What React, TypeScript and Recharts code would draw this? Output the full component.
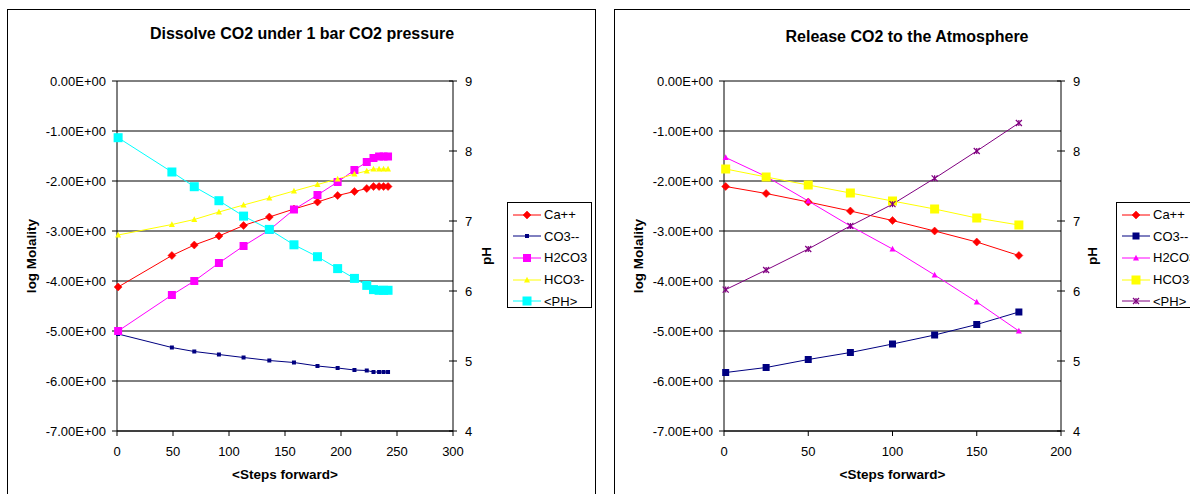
import React from 'react';
import { LineChart, Line, XAxis, YAxis, CartesianGrid, Legend } from 'recharts';

const FONT = '"Liberation Sans", Arial, Helvetica, sans-serif';

// ---------- Chart A: Dissolve CO2 under 1 bar CO2 pressure ----------
const stepsA = [1, 49, 69, 91, 113, 136, 158, 179, 197, 212, 223, 229, 234, 238, 242];
const caA = [-4.12, -3.49, -3.28, -3.10, -2.89, -2.72, -2.56, -2.42, -2.29, -2.21, -2.15, -2.11, -2.11, -2.11, -2.11];
const co3A = [-5.06, -5.33, -5.41, -5.47, -5.53, -5.59, -5.63, -5.70, -5.74, -5.78, -5.79, -5.82, -5.82, -5.82, -5.82];
const h2co3A = [-5.00, -4.28, -4.00, -3.64, -3.30, -2.98, -2.57, -2.28, -2.02, -1.78, -1.62, -1.54, -1.51, -1.51, -1.51];
const hco3A = [-3.08, -2.87, -2.77, -2.62, -2.48, -2.34, -2.20, -2.07, -1.96, -1.86, -1.80, -1.76, -1.76, -1.76, -1.76];
const phA = [8.19, 7.70, 7.49, 7.29, 7.07, 6.88, 6.66, 6.49, 6.32, 6.18, 6.08, 6.02, 6.01, 6.01, 6.01];

// ---------- Chart B: Release CO2 to the Atmosphere ----------
const stepsB = [1, 25, 50, 75, 100, 125, 150, 175];
const caB = [-2.11, -2.25, -2.42, -2.60, -2.79, -3.00, -3.22, -3.49];
const co3B = [-5.83, -5.73, -5.57, -5.43, -5.26, -5.08, -4.87, -4.62];
const h2co3B = [-1.53, -1.91, -2.40, -2.90, -3.36, -3.88, -4.42, -5.00];
const hco3B = [-1.76, -1.92, -2.08, -2.24, -2.40, -2.56, -2.74, -2.88];
const phB = [6.02, 6.30, 6.60, 6.93, 7.24, 7.61, 8.00, 8.40];

// ---------- Axis ticks / labels ----------
const xTicksA = [0, 50, 100, 150, 200, 250, 300];
const xTicksB = [0, 50, 100, 150, 200];
const molTicks = [-7, -6, -5, -4, -3, -2, -1, 0];
const phTicks = [4, 5, 6, 7, 8, 9];
const titleA = 'Dissolve CO2 under 1 bar CO2 pressure';
const titleB = 'Release CO2 to the Atmosphere';
const xLabel = '<Steps forward>';
const yLabel = 'log Molality';
const y2Label = 'pH';

const dataA = stepsA.map((x, i) => ({ x, ca: caA[i], co3: co3A[i], h2co3: h2co3A[i], hco3: hco3A[i], ph: phA[i] }));
const dataB = stepsB.map((x, i) => ({ x, ca: caB[i], co3: co3B[i], h2co3: h2co3B[i], hco3: hco3B[i], ph: phB[i] }));

type Kind = 'diamond' | 'square' | 'triangle' | 'star';
interface Series { key: string; name: string; color: string; kind: Kind; size: number; axis: 'left' | 'right' }

const seriesA: Series[] = [
  { key: 'ca', name: 'Ca++', color: '#FF0000', kind: 'diamond', size: 4, axis: 'left' },
  { key: 'co3', name: 'CO3--', color: '#000080', kind: 'square', size: 4, axis: 'left' },
  { key: 'h2co3', name: 'H2CO3', color: '#FF00FF', kind: 'square', size: 8, axis: 'left' },
  { key: 'hco3', name: 'HCO3-', color: '#FFFF00', kind: 'triangle', size: 6, axis: 'left' },
  { key: 'ph', name: '<PH>', color: '#00FFFF', kind: 'square', size: 9, axis: 'right' },
];
const seriesB: Series[] = [
  { key: 'ca', name: 'Ca++', color: '#FF0000', kind: 'diamond', size: 4, axis: 'left' },
  { key: 'co3', name: 'CO3--', color: '#000080', kind: 'square', size: 7, axis: 'left' },
  { key: 'h2co3', name: 'H2CO3', color: '#FF00FF', kind: 'triangle', size: 6, axis: 'left' },
  { key: 'hco3', name: 'HCO3-', color: '#FFFF00', kind: 'square', size: 9, axis: 'left' },
  { key: 'ph', name: '<PH>', color: '#800080', kind: 'star', size: 3, axis: 'right' },
];

function marker(kind: Kind, cx: number, cy: number, s: number, color: string, key?: string) {
  if (kind === 'diamond') {
    return <polygon key={key} points={`${cx},${cy - s} ${cx + s},${cy} ${cx},${cy + s} ${cx - s},${cy}`} fill={color} stroke={color} strokeWidth={0.5} />;
  }
  if (kind === 'square') {
    return <rect key={key} x={cx - s / 2} y={cy - s / 2} width={s} height={s} fill={color} />;
  }
  if (kind === 'triangle') {
    return <polygon key={key} points={`${cx},${cy - s * 0.55} ${cx + s / 2},${cy + s * 0.4} ${cx - s / 2},${cy + s * 0.4}`} fill={color} />;
  }
  return (
    <g key={key} stroke={color} strokeWidth={1.2}>
      <line x1={cx - s} y1={cy - s} x2={cx + s} y2={cy + s} />
      <line x1={cx - s} y1={cy + s} x2={cx + s} y2={cy - s} />
      <line x1={cx} y1={cy - s} x2={cx} y2={cy + s} />
    </g>
  );
}

const fmtMol = (v: number) => `${v.toFixed(2)}E+00`;

function makeLegend(series: Series[]) {
  return () => (
    <div style={{ width: 85, height: 106, border: '1px solid #000', boxSizing: 'border-box', background: '#fff', paddingTop: 1, fontFamily: FONT, fontSize: 13, color: '#000' }}>
      {series.map((s) => (
        <div key={s.key} style={{ display: 'flex', alignItems: 'center', height: 21.6, whiteSpace: 'nowrap' }}>
          <svg width={36} height={14} style={{ display: 'block', flex: 'none' }}>
            <line x1={5} y1={7} x2={33} y2={7} stroke={s.color} strokeWidth={1} />
            {marker(s.kind, 19, 7, s.size, s.color)}
          </svg>
          <span>{s.name}</span>
        </div>
      ))}
    </div>
  );
}

interface PanelProps {
  left: number; width: number; title: string; titleX: number; titleY: number;
  data: any[]; series: Series[]; xMax: number; xTicks: number[];
  leftW: number; rightW: number; legendLeft: number; molDx: number; phDx: number;
  frameLeft: number; frameW: number;
}

function Panel(p: PanelProps) {
  const H = 494;
  const tickStyle = { fill: '#000', fontSize: 13, fontFamily: FONT };
  return (
    <div style={{ position: 'absolute', left: p.left, top: 0, width: p.width, height: H }}>
      <div style={{ position: 'absolute', left: p.frameLeft, top: 9, width: p.frameW, height: 520, border: '1px solid #000', boxSizing: 'border-box' }} />
      <div style={{ position: 'absolute', left: p.titleX - 250, top: p.titleY - 10, width: 500, lineHeight: '20px', textAlign: 'center', fontFamily: FONT, fontWeight: 'bold', fontSize: 16, color: '#000' }}>{p.title}</div>
      <div style={{ position: 'absolute', left: 0, top: 0 }}>
        <LineChart width={p.width} height={H} data={p.data} margin={{ top: 81, right: 0, bottom: 0, left: 0 }}>
          <CartesianGrid yAxisId="left" vertical={false} stroke="#000" strokeWidth={1} />
          <XAxis
            dataKey="x" type="number" domain={[0, p.xMax]} ticks={p.xTicks} interval={0}
            height={63} tickSize={5} tickMargin={11} tick={tickStyle}
            axisLine={{ stroke: '#000' }} tickLine={{ stroke: '#000' }}
            label={(lp: any) => {
              const vb = lp.viewBox;
              return <text x={vb.x + vb.width / 2} y={vb.y + 43} textAnchor="middle" dominantBaseline="central" fontFamily={FONT} fontWeight="bold" fontSize={13.5} fill="#000">{xLabel}</text>;
            }}
          />
          <YAxis
            yAxisId="left" domain={[-7, 0]} ticks={molTicks} interval={0} width={p.leftW}
            tickSize={5} tickMargin={6} tick={tickStyle} tickFormatter={fmtMol}
            axisLine={{ stroke: '#000' }} tickLine={{ stroke: '#000' }}
            label={(lp: any) => {
              const vb = lp.viewBox;
              const x = vb.x + p.molDx; const y = vb.y + vb.height / 2;
              return <text x={x} y={y} transform={`rotate(-90 ${x} ${y})`} textAnchor="middle" dominantBaseline="central" fontFamily={FONT} fontWeight="bold" fontSize={13.5} fill="#000">{yLabel}</text>;
            }}
          />
          <YAxis
            yAxisId="right" orientation="right" domain={[4, 9]} ticks={phTicks} interval={0} width={p.rightW}
            tickSize={4} tickMargin={8} tickLine={{ stroke: 'transparent' }}
            axisLine={{ stroke: '#000' }}
            tick={(tp: any) => {
              const ax = tp.x - 12;
              return (
                <g key={`t-${tp.index}`}>
                  <line x1={ax - 4} y1={tp.y} x2={ax + 4} y2={tp.y} stroke="#000" />
                  <text x={tp.x} y={tp.y} textAnchor="start" dominantBaseline="central" fontFamily={FONT} fontSize={13} fill="#000">{tp.payload.value}</text>
                </g>
              );
            }}
            label={(lp: any) => {
              const vb = lp.viewBox;
              const x = vb.x + p.phDx; const y = vb.y + vb.height / 2;
              return <text x={x} y={y} transform={`rotate(-90 ${x} ${y})`} textAnchor="middle" dominantBaseline="central" fontFamily={FONT} fontWeight="bold" fontSize={13.5} fill="#000">{y2Label}</text>;
            }}
          />
          {p.series.map((s) => (
            <Line
              key={s.key} yAxisId={s.axis} dataKey={s.key} name={s.name} type="linear"
              stroke={s.color} strokeWidth={1} isAnimationActive={false} activeDot={false}
              dot={(dp: any) => marker(s.kind, dp.cx, dp.cy, s.size, s.color, `${s.key}-${dp.index}`)}
            />
          ))}
          <Legend
            layout="vertical" align="center" verticalAlign="middle"
            content={makeLegend(p.series)}
            wrapperStyle={{ left: p.legendLeft, top: 202, width: 85, height: 106, right: 'auto', bottom: 'auto' }}
          />
        </LineChart>
      </div>
    </div>
  );
}

export default function App() {
  return (
    <div style={{ position: 'absolute', left: 0, top: 0, width: 1190, height: 494, overflow: 'hidden', background: '#fff' }}>
      <Panel
        left={0} width={600} title={titleA} titleX={302} titleY={34} data={dataA} series={seriesA}
        xMax={300} xTicks={xTicksA} leftW={117} rightW={147} legendLeft={507} molDx={31} phDx={33}
        frameLeft={7} frameW={589}
      />
      <Panel
        left={600} width={590} title={titleB} titleX={307} titleY={37} data={dataB} series={seriesB}
        xMax={200} xTicks={xTicksB} leftW={124} rightW={129} legendLeft={516} molDx={38} phDx={31}
        frameLeft={14} frameW={600}
      />
    </div>
  );
}
